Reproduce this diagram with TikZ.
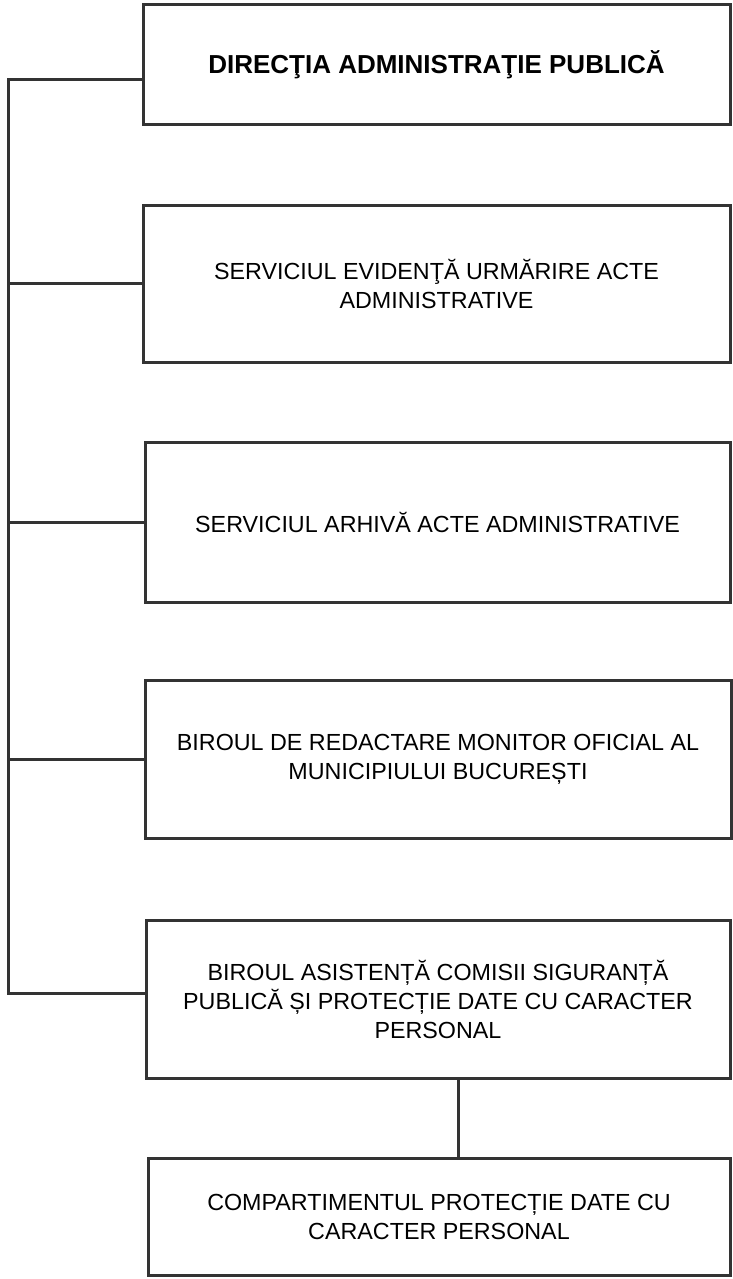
\documentclass[tikz,border=0pt]{standalone}
\usepackage{fontspec}
\setmainfont{Liberation Sans}
\begin{document}
\begin{tikzpicture}[x=1pt,y=-1pt,line width=3pt]
\tikzset{unitbox/.style={draw=black!80,rectangle,inner sep=0pt,align=center,
  font=\fontsize{23.3}{29}\selectfont}}
\useasboundingbox (0,0) rectangle (733,1279);
\node [unitbox,minimum width=587,minimum height=120] (dir) at (436.5,65)
  {\fontsize{26}{30}\selectfont\textbf{DIRECŢIA ADMINISTRAŢIE PUBLICĂ}};
\node [unitbox,minimum width=587,minimum height=157] (seua) at (436.5,283.5)
  {SERVICIUL EVIDENŢĂ URMĂRIRE ACTE\\ADMINISTRATIVE};
\node [unitbox,minimum width=585,minimum height=160] (saa) at (437.5,522)
  {SERVICIUL ARHIVĂ ACTE ADMINISTRATIVE};
\node [unitbox,minimum width=586,minimum height=158] (brmo) at (438,759)
  {BIROUL DE REDACTARE MONITOR OFICIAL AL\\MUNICIPIULUI BUCUREȘTI};
\node [unitbox,minimum width=584,minimum height=158] (bacs) at (438,999)
  {BIROUL ASISTENȚĂ COMISII SIGURANȚĂ\\PUBLICĂ ȘI PROTECȚIE DATE CU CARACTER\\PERSONAL};
\node [unitbox,minimum width=582,minimum height=117] (cpdc) at (439,1216.5)
  {COMPARTIMENTUL PROTECȚIE DATE CU\\CARACTER PERSONAL};
% trunk on the left
\coordinate (ttop) at (8,80);
\coordinate (tbot) at (8,993);
\draw [black!80] (dir.west |- ttop) -- (ttop) -- (tbot) -- (bacs.west |- tbot);
\draw [black!80] (seua.west) -- (seua.west -| ttop);
\draw [black!80] (saa.west) -- (saa.west -| ttop);
\draw [black!80] (brmo.west) -- (brmo.west -| ttop);
\draw [black!80] (bacs.south -| 458,0) -- (cpdc.north -| 458,0);
\end{tikzpicture}
\end{document}
